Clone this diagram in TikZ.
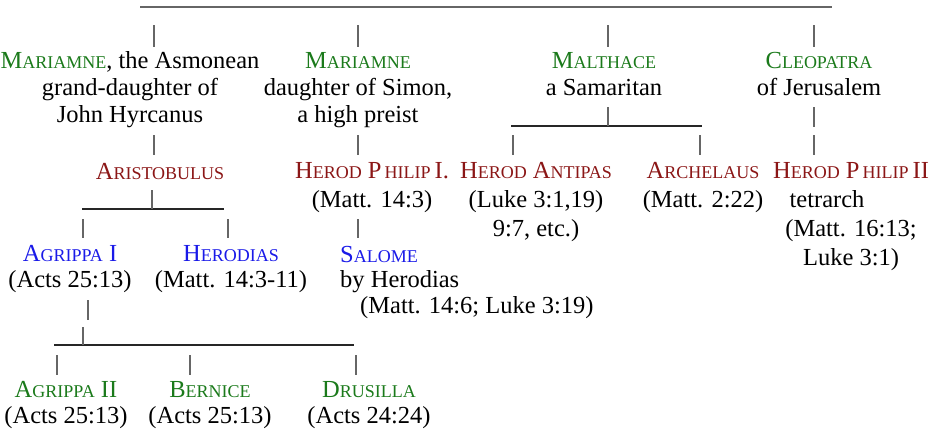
\documentclass[tikz,border=0pt]{standalone}
\usepackage{fontspec}
\setmainfont{Liberation Serif}
\definecolor{wifegreen}{HTML}{1B7A1B}
\definecolor{sonred}{HTML}{8B1616}
\definecolor{kidblue}{HTML}{1A1AE8}
% fake small caps: first letter full size, rest smaller
\newcommand{\scname}[2]{#1{\fontsize{18pt}{18pt}\selectfont #2}}
\newcommand{\gname}[1]{\textcolor{wifegreen}{#1}}
\newcommand{\rname}[1]{\textcolor{sonred}{#1}}
\newcommand{\bname}[1]{\textcolor{kidblue}{#1}}
\begin{document}
\begin{tikzpicture}[
	every node/.style={font=\fontsize{24.5pt}{27pt}\selectfont, inner sep=0pt, align=center, anchor=base},
	wide/.style={font=\fontsize{24.5pt}{29pt}\selectfont},
	narrow/.style={font=\fontsize{24.5pt}{25.5pt}\selectfont},
	tick/.style={draw=black!60, line width=1.3pt},
	bar/.style={draw=black!85, line width=1.5pt},
	topbar/.style={draw=black!60, line width=1.6pt}]
	\useasboundingbox (0pt,0pt) rectangle (939pt,-432pt);
	% the four wives (node base = last line)
	\draw (130pt,-122pt) node (mar1) {\gname{\scname{M}{ARIAMNE}}, the Asmonean\\grand-daughter of\\John Hyrcanus};
	\draw (358pt,-122pt) node (mar2) {\gname{\scname{M}{ARIAMNE}}\\daughter of Simon,\\a high preist};
	\draw (604pt,-95pt) node (malt) {\gname{\scname{M}{ALTHACE}}\\a Samaritan};
	\draw (819pt,-95pt) node (cleo) {\gname{\scname{C}{LEOPATRA}}\\of Jerusalem};
	% the sons
	\draw (160pt,-179pt) node (aris) {\rname{\scname{A}{RISTOBULUS}}};
	\draw (372pt,-207pt) node[wide] (hp1) {\rname{\scname{H}{EROD} \scname{P}{\,HILIP}\,I.}\\(Matt. 14:3)};
	\draw (536pt,-236pt) node[wide] (anti) {\rname{\scname{H}{EROD} \scname{A}{NTIPAS}}\\(Luke 3:1,19)\\9:7, etc.)};
	\draw (703pt,-207pt) node[wide] (arch) {\rname{\scname{A}{RCHELAUS}}\\(Matt. 2:22)};
	\draw (851pt,-265pt) node[wide] (hp2) {\rname{\scname{H}{EROD} \scname{P}{\,HILIP}\,II}\\tetrarch\hspace*{48pt}\null\\(Matt. 16:13;\\Luke 3:1)};
	% the grandchildren
	\draw (70pt,-287pt) node[narrow] (agr1) {\bname{\scname{A}{GRIPPA} I}\\(Acts 25:13)};
	\draw (231pt,-287pt) node[narrow] (hdias) {\bname{\scname{H}{ERODIAS}}\\(Matt. 14:3-11)};
	\draw (340pt,-313pt) node[narrow, align=left, anchor=base west] (salome) {\bname{\scname{S}{ALOME}}\\by Herodias\\\hspace*{20pt}(Matt. 14:6; Luke 3:19)};
	% children of Agrippa I
	\draw (66pt,-423pt) node[narrow] (agr2) {\gname{\scname{A}{GRIPPA} II}\\(Acts 25:13)};
	\draw (210pt,-423pt) node[narrow] (bern) {\gname{\scname{B}{ERNICE}}\\(Acts 25:13)};
	\draw (369pt,-423pt) node[narrow] (drus) {\gname{\scname{D}{RUSILLA}}\\(Acts 24:24)};
	% bars
	\coordinate (topl) at (140pt,-7pt);
	\coordinate (topr) at (832pt,-7pt);
	\coordinate (maltl) at (511pt,-126pt);
	\coordinate (maltr) at (702pt,-126pt);
	\coordinate (arisl) at (82pt,-209pt);
	\coordinate (arisr) at (224pt,-209pt);
	\coordinate (agrl) at (54pt,-345pt);
	\coordinate (agrr) at (354pt,-345pt);
	\draw[topbar] (topl) -- (topr);
	\draw[bar] (maltl) -- (maltr);
	\draw[bar] (arisl) -- (arisr);
	\draw[bar] (agrl) -- (agrr);
	% ticks
	\foreach \x in {154,358,608,814}
		\draw[tick] (\x pt,-25pt) -- ++(0pt,-22pt);
	\foreach \x in {154,358,513,700,814}
		\draw[tick] (\x pt,-135pt) -- ++(0pt,-20pt);
	\draw[tick] (608pt,-107pt) -- (608pt,-126pt);
	\draw[tick] (814pt,-107pt) -- ++(0pt,-20pt);
	\draw[tick] (152pt,-190pt) -- (152pt,-209pt);
	\foreach \x in {83,228,358}
		\draw[tick] (\x pt,-219pt) -- ++(0pt,-19pt);
	\draw[tick] (88pt,-300pt) -- ++(0pt,-20pt);
	\draw[tick] (83pt,-327pt) -- (83pt,-345pt);
	\foreach \x in {57,190,356}
		\draw[tick] (\x pt,-355pt) -- ++(0pt,-20pt);
\end{tikzpicture}
\end{document}
